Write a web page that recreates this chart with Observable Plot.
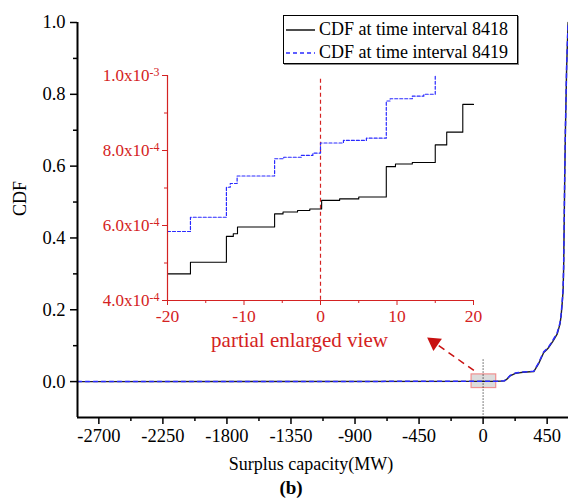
<!DOCTYPE html>
<html><head><meta charset="utf-8">
<script src="https://cdn.jsdelivr.net/npm/d3@7"></script>
<script src="https://cdn.jsdelivr.net/npm/@observablehq/plot@0.6"></script>
<style>
body{margin:0;background:#fff;}
#wrap{position:relative;width:568px;height:502px;overflow:hidden;font-family:"Liberation Serif","Times New Roman",serif;background:#fff;}
#wrap svg, #wrap svg text, #wrap svg tspan{font-family:"Liberation Serif","Times New Roman",serif !important;}
#main,#inset{position:absolute;}
#main{left:0;top:0}
#inset{left:90px;top:60px}
#legend{position:absolute;left:283px;top:15px;width:233px;height:47px;border:1px solid #000;box-shadow:1px 1px 0 #888;background:#fff;font-size:18px;}
#legend .row{position:absolute;left:0;height:22px;line-height:22px;white-space:nowrap;}
#legend svg{position:absolute;left:2px;top:0;}
#legend span{position:absolute;left:35px;top:0;}
</style></head><body>
<div id="wrap"><div id="main"></div><div id="inset"></div><div id="legend"></div></div>
<script>
// ---- main chart data ----
const seriesNames = ["CDF at time interval 8418", "CDF at time interval 8419"];
const mainX = [-2850, 0, 100, 150, 165, 190, 227, 280, 356, 390, 426, 445, 461, 490, 520, 540, 548, 556, 562, 566, 573, 578, 587, 597];
const mainCdf8418 = [0, 0.0006, 0.001, 0.002, 0.006, 0.016, 0.023, 0.026, 0.028, 0.05, 0.081, 0.088, 0.095, 0.112, 0.132, 0.16, 0.183, 0.22, 0.253, 0.318, 0.55, 0.69, 0.876, 1.0];
const mainCdf8419 = [0, 0.0008, 0.0012, 0.0025, 0.007, 0.017, 0.024, 0.027, 0.029, 0.052, 0.083, 0.09, 0.097, 0.115, 0.135, 0.163, 0.186, 0.224, 0.258, 0.325, 0.56, 0.70, 0.88, 1.0];
const xMajor = [-2700, -2250, -1800, -1350, -900, -450, 0, 450];
const xMinor = [-2475, -2025, -1575, -1125, -675, -225, 225];
const yMajor = [0, 0.2, 0.4, 0.6, 0.8, 1.0];
const yMinor = [0.1, 0.3, 0.5, 0.7, 0.9];
const zoomBoxX = [-81, 92];
const zoomBoxY = [-0.018, 0.02];
const markerLineY = [0.06, -0.1];
const arrowX = [-65, -344];
const arrowY = [0.031, 0.109];

// ---- inset data (step points) ----
const inX8418 = [-20, -17.0, -12.3, -11.4, -10.85, -6.0, -4.9, -3.0, -1.4, 0.15, 2.5, 5.0, 8.6, 9.8, 12.0, 15.0, 16.5, 18.6, 20.0];
const inY8418 = [4.71, 5.02, 5.71, 5.78, 5.96, 6.31, 6.36, 6.40, 6.44, 6.67, 6.71, 6.76, 7.57, 7.64, 7.68, 8.15, 8.49, 9.23, 9.23];
const inX8419 = [-20, -17.0, -12.3, -11.8, -10.9, -6.0, -4.8, -2.5, -1.0, 0.0, 3.0, 6.0, 8.6, 9.1, 12.0, 13.5, 15.0];
const inY8419 = [5.84, 6.22, 7.02, 7.12, 7.32, 7.78, 7.82, 7.87, 7.93, 8.20, 8.27, 8.33, 9.32, 9.38, 9.45, 9.50, 10.0];
const inXMajor = [-20, -10, 0, 10, 20];
const inXMinor = [-15, -5, 5, 15];
const inYMajor = [4e-4, 6e-4, 8e-4, 1e-3];
const inYLabels = ["4.0x10^-4", "6.0x10^-4", "8.0x10^-4", "1.0x10^-3"];
const inYMinor = [5e-4, 7e-4, 9e-4];

const RED = "#d42222";
const BLUE = "#2a2aff";
const FONT = "'Liberation Serif', 'Times New Roman', serif";

const m18 = mainX.map((x, i) => ({x, y: mainCdf8418[i]}));
const m19 = mainX.map((x, i) => ({x, y: mainCdf8419[i]}));
const i18 = inX8418.map((x, i) => ({x, y: inY8418[i] * 1e-4}));
const i19 = inX8419.map((x, i) => ({x, y: inY8419[i] * 1e-4}));

const main = Plot.plot({
  width: 568, height: 502,
  marginLeft: 77, marginRight: 0, marginTop: 22, marginBottom: 85,
  x: {domain: [-2850, 600], label: null},
  y: {domain: [-0.1, 1.0], label: null},
  style: {fontFamily: FONT, fontSize: "18px", color: "#000", background: "transparent", overflow: "visible"},
  marks: [
    Plot.rect([{x1: zoomBoxX[0], x2: zoomBoxX[1], y1: zoomBoxY[0], y2: zoomBoxY[1]}],
      {x1: "x1", x2: "x2", y1: "y1", y2: "y2", fill: "#dcdcdc", stroke: "#f09090", strokeWidth: 1.2}),
    Plot.line(m18, {x: "x", y: "y", stroke: "#222", strokeWidth: 1.4}),
    Plot.line(m19, {x: "x", y: "y", stroke: BLUE, strokeWidth: 1.5, strokeDasharray: "4,4"}),
    Plot.ruleX([0], {y1: markerLineY[0], y2: markerLineY[1], stroke: "#000", strokeWidth: 1, strokeDasharray: "1,2"}),
    Plot.link([{x1: arrowX[0], y1: arrowY[0], x2: arrowX[1], y2: arrowY[1]}],
      {x1: "x1", y1: "y1", x2: "x2", y2: "y2", stroke: "#c81010", strokeWidth: 1.5, strokeDasharray: "7,5"}),
    Plot.dot([{x: arrowX[1], y: arrowY[1]}], {x: "x", y: "y", symbol: "triangle", r: 5.5, rotate: -55, fill: "#c81010", stroke: "none"}),
    Plot.ruleX([-2850], {stroke: "#000", strokeWidth: 2}),
    Plot.ruleY([-0.1], {stroke: "#000", strokeWidth: 2}),
    Plot.axisX(xMajor, {tickSize: 7, tickPadding: 4, tickFormat: d => String(d), strokeWidth: 1.5, fontSize: 18.5, label: null}),
    Plot.axisX(xMinor, {tickSize: 4, tickFormat: () => "", strokeWidth: 1.5, label: null}),
    Plot.axisY(yMajor, {tickSize: 7, tickPadding: 5, tickFormat: d3.format(".1f"), strokeWidth: 1.5, fontSize: 18.5, label: null}),
    Plot.axisY(yMinor, {tickSize: 4, tickFormat: () => "", strokeWidth: 1.5, label: null}),
    Plot.text(["CDF"], {text: d => d, frameAnchor: "left", dx: -57, dy: -4, rotate: -90, fontSize: 18}),
    Plot.text(["Surplus capacity(MW)"], {text: d => d, frameAnchor: "bottom", dx: -12, dy: 52, fontSize: 18}),
    Plot.text(["(b)"], {text: d => d, frameAnchor: "bottom", dx: -32, dy: 76, fontSize: 19, fontWeight: "bold"})
  ]
});
document.getElementById("main").append(main);

const inset = Plot.plot({
  width: 400, height: 300,
  marginLeft: 77, marginRight: 17, marginTop: 15, marginBottom: 60,
  x: {domain: [-20, 20], label: null},
  y: {domain: [4e-4, 1e-3], label: null},
  style: {fontFamily: FONT, fontSize: "17px", color: RED, background: "transparent", overflow: "visible"},
  marks: [
    Plot.ruleX([0], {y1: 9.9e-4, y2: 4e-4, stroke: RED, strokeWidth: 1.2, strokeDasharray: "4,3"}),
    Plot.line(i18, {x: "x", y: "y", curve: "step-after", stroke: "#000", strokeWidth: 1.1}),
    Plot.line(i19, {x: "x", y: "y", curve: "step-after", stroke: BLUE, strokeWidth: 1.2, strokeDasharray: "3,2"}),
    Plot.ruleX([-20], {stroke: RED, strokeWidth: 1.2}),
    Plot.ruleY([4e-4], {stroke: RED, strokeWidth: 1.2}),
    Plot.axisX(inXMajor, {tickSize: 5, tickPadding: 4, tickFormat: d => String(d), fontSize: 17.5, label: null}),
    Plot.axisX(inXMinor, {tickSize: 3, tickFormat: () => "", label: null}),
    Plot.axisY(inYMajor, {tickSize: 5, tickPadding: 3, tickFormat: (d, i) => inYLabels[i], fontSize: 17, label: null}),
    Plot.axisY(inYMinor, {tickSize: 3, tickFormat: () => "", label: null}),
    Plot.text(["partial enlarged view"], {text: d => d, frameAnchor: "bottom", dx: -21, dy: 46, fontSize: 21, fill: RED})
  ]
});
document.getElementById("inset").append(inset);
d3.select(inset).selectAll("text").each(function() {
  const t = this.textContent;
  if (t.includes("^")) {
    const [a, b] = t.split("^");
    this.textContent = a;
    d3.select(this).append("tspan").attr("dy", "-0.45em").attr("font-size", "0.7em").text(b);
  }
});

// legend
const lg = document.getElementById("legend");
const rowsY = [2, 25];
seriesNames.forEach((name, i) => {
  const row = document.createElement("div");
  row.className = "row";
  row.style.top = rowsY[i] + "px";
  row.style.width = "100%";
  const dash = i === 0 ? "" : 'stroke-dasharray="4,3"';
  const col = i === 0 ? "#000" : BLUE;
  row.innerHTML = `<svg width="30" height="22"><line x1="0" x2="29" y1="12" y2="12" stroke="${col}" stroke-width="1.4" ${dash}/></svg><span>${name}</span>`;
  lg.append(row);
});
</script>
</body></html>
